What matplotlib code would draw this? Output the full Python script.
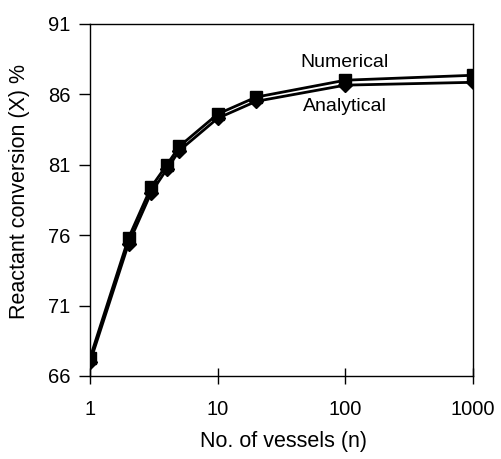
import matplotlib
matplotlib.use('Agg')
from matplotlib import pyplot as plt
import matplotlib.ticker as mticker

# number of vessels and conversion values
vessels = [1, 2, 3, 4, 5, 10, 20, 100, 1000]
numerical = [67.3, 75.8, 79.4, 81.0, 82.3, 84.6, 85.8, 87.0, 87.35]
analytical = [67.0, 75.4, 79.0, 80.7, 82.0, 84.3, 85.5, 86.65, 86.85]

x_ticks = [1, 10, 100, 1000]
y_ticks = [66, 71, 76, 81, 86, 91]

plt.rcParams['font.family'] = ['Liberation Sans', 'DejaVu Sans']

fig = plt.figure(figsize=(5.01, 4.59), dpi=100)
ax = fig.add_axes([0.18, 0.181, 0.764, 0.767])

ax.plot(vessels, analytical, color='black', lw=2.0, marker='D', markersize=7.5)
ax.plot(vessels, numerical, color='black', lw=2.0, marker='s', markersize=8.5)

ax.set_xscale('log')
ax.set_xlim(1, 1000)
ax.set_ylim(66, 91)
ax.xaxis.set_major_locator(mticker.FixedLocator(x_ticks))
ax.xaxis.set_major_formatter(mticker.FixedFormatter([str(v) for v in x_ticks]))
ax.xaxis.set_minor_locator(mticker.NullLocator())
ax.set_yticks(y_ticks)

ax.tick_params(axis='x', direction='inout', length=11, width=1, labelsize=14.5, pad=12)
ax.tick_params(axis='y', direction='out', length=8, width=1, labelsize=14.5, pad=6)
for s in ax.spines.values():
    s.set_linewidth(1.0)

ax.text(99, 88.25, 'Numerical', fontsize=14, ha='center', va='center')
ax.text(99, 85.1, 'Analytical', fontsize=14, ha='center', va='center')

ax.set_xlabel('No. of vessels (n)', fontsize=15.5)
ax.set_ylabel('Reactant conversion (X) %', fontsize=15.5)
ax.xaxis.label.set(va='center', ha='center')
ax.yaxis.label.set(va='center', ha='center')
ax.xaxis.set_label_coords(0.504, -0.1875)
ax.yaxis.set_label_coords(-0.185, 0.523)

plt.savefig('out.png', dpi=100)
